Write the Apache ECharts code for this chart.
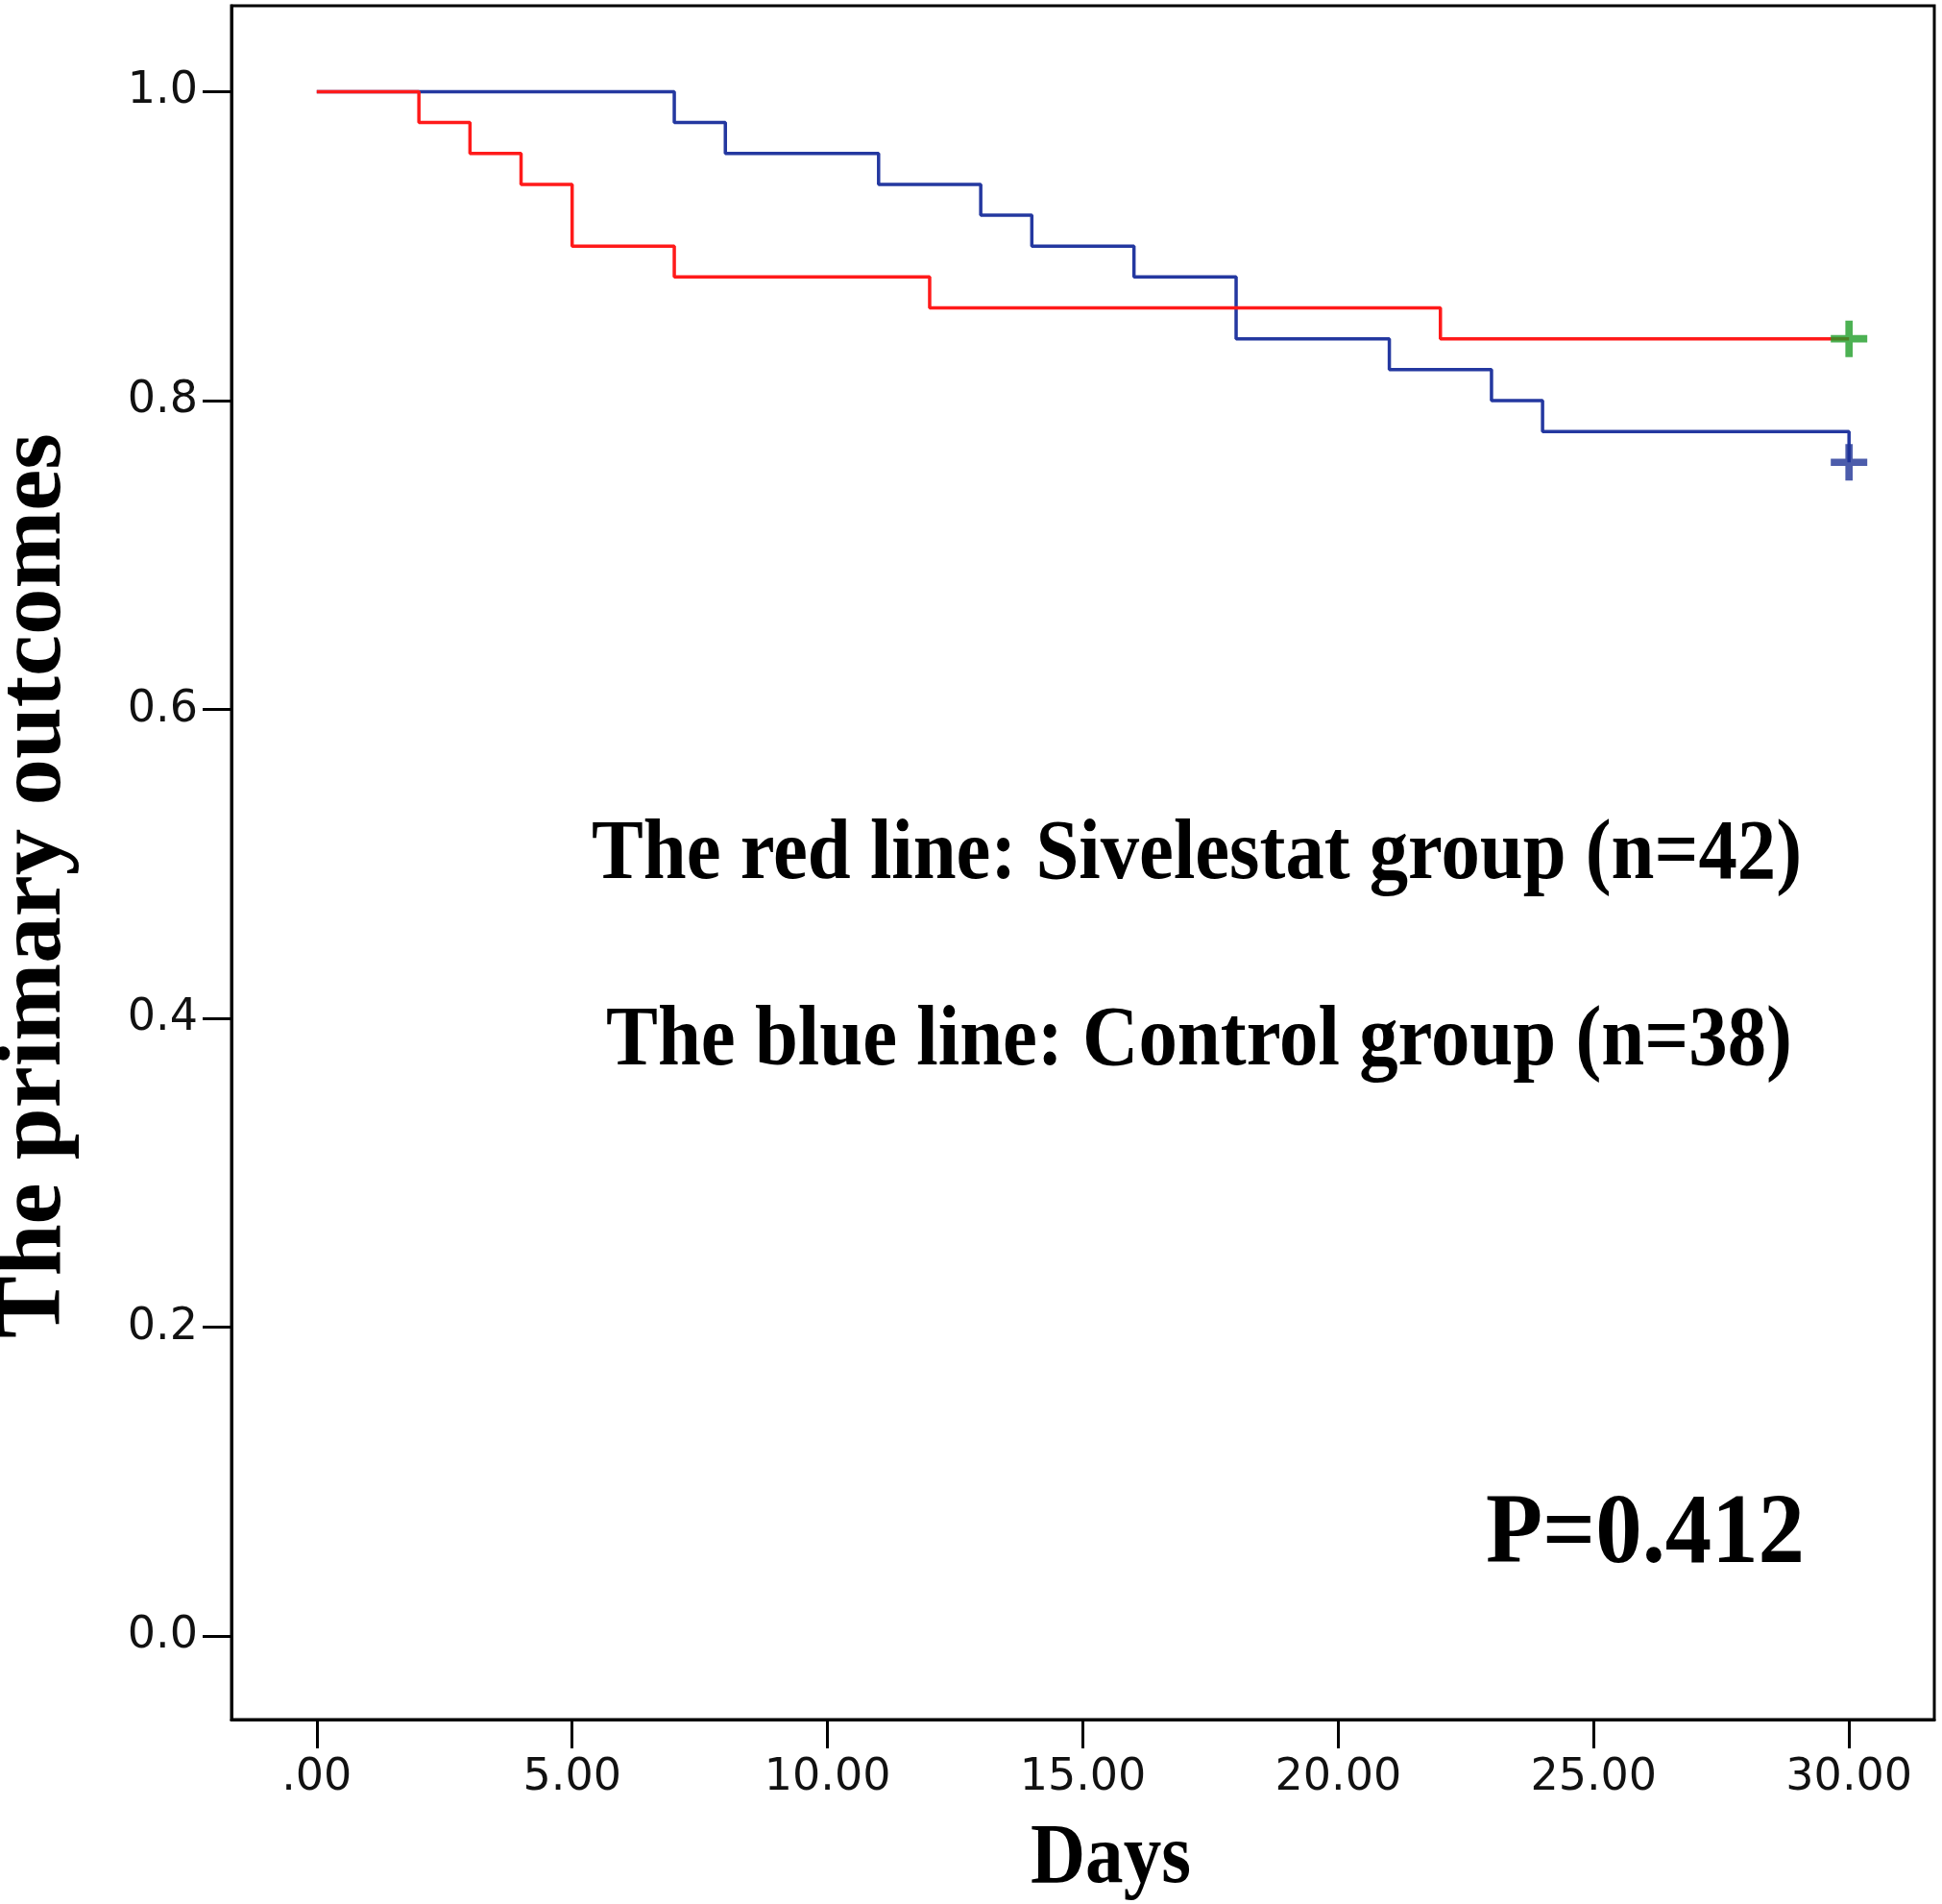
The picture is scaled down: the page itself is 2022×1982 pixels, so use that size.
<!DOCTYPE html>
<html>
<head>
<meta charset="utf-8">
<script src="https://cdn.jsdelivr.net/npm/echarts@6/dist/echarts.min.js"></script>
<style>html,body{margin:0;padding:0;background:#fff}#c{width:2022px;height:1982px}</style>
</head>
<body>
<div id="c"></div>
<script>
// ---- data ----
var redTimes   = [0, 2, 3, 4, 5, 7, 12, 22, 30];
var redSurv    = [1.00, 0.98, 0.96, 0.94, 0.90, 0.88, 0.86, 0.84, 0.84];
var blueTimes  = [0, 7, 8, 11, 13, 14, 16, 18, 21, 23, 24, 30];
var blueSurv   = [1.00, 0.98, 0.96, 0.94, 0.92, 0.90, 0.88, 0.84, 0.82, 0.80, 0.78, 0.76];
var redCensor  = [[30, 0.84]];
var blueCensor = [[30, 0.76]];
var xTickValues = [0, 5, 10, 15, 20, 25, 30];
var xTickLabels = ['.00', '5.00', '10.00', '15.00', '20.00', '25.00', '30.00'];
var yTickValues = [0, 0.2, 0.4, 0.6, 0.8, 1.0];
var yTickLabels = ['0.0', '0.2', '0.4', '0.6', '0.8', '1.0'];
var yTitle = 'The primary outcomes';
var xTitle = 'Days';
var note1 = 'The red line: Sivelestat group (n=42)';
var note2 = 'The blue line: Control group (n=38)';
var pText = 'P=0.412';

function zip(a, b) { return a.map(function (v, i) { return [v, b[i]]; }); }

var mc = document.createElement('canvas').getContext('2d');
function fitScale(text, font, target) {
  mc.font = font;
  var w = mc.measureText(text).width;
  return target / w;
}
var serif = '"Liberation Serif", "Times New Roman", serif';
function fitText(text, size, left, right, baseline) {
  var font = 'bold ' + size + 'px ' + serif;
  var s = fitScale(text, font, right - left);
  return {
    type: 'text', x: left, y: baseline - 0.33 * size, scaleX: s,
    style: { text: text, font: font, fill: '#000', align: 'left', verticalAlign: 'middle' }
  };
}
var plusPath = 'path://M4,0H6V4H10V6H6V10H4V6H0V4H4Z';

var chart = echarts.init(document.getElementById('c'));
var ytFont = 'bold 96px ' + serif;
var ytScale = fitScale(yTitle, ytFont, 942);
chart.setOption({
  animation: false,
  backgroundColor: '#fff',
  grid: { left: 241, right: 8, top: 6, bottom: 192, show: true, borderColor: '#000', borderWidth: 3, backgroundColor: 'transparent' },
  xAxis: {
    type: 'value', min: -1.67, max: 31.67,
    splitLine: { show: false },
    axisLine: { show: true, onZero: false, lineStyle: { color: '#000', width: 3 } },
    axisTick: { show: true, inside: false, length: 30, lineStyle: { color: '#000', width: 3 }, customValues: xTickValues },
    axisLabel: {
      show: true, margin: 38, fontFamily: 'DejaVu Sans', fontSize: 46, color: '#111',
      customValues: xTickValues,
      formatter: function (v) { var i = xTickValues.indexOf(v); return i >= 0 ? xTickLabels[i] : ''; }
    }
  },
  yAxis: {
    type: 'value', min: -0.0539, max: 1.0556,
    splitLine: { show: false },
    axisLine: { show: true, onZero: false, lineStyle: { color: '#000', width: 3 } },
    axisTick: { show: true, inside: false, length: 30, lineStyle: { color: '#000', width: 3 }, customValues: yTickValues },
    axisLabel: {
      show: true, margin: 35, fontFamily: 'DejaVu Sans', fontSize: 46, color: '#111',
      customValues: yTickValues,
      formatter: function (v) {
        for (var i = 0; i < yTickValues.length; i++) if (Math.abs(yTickValues[i] - v) < 1e-6) return yTickLabels[i];
        return '';
      }
    }
  },
  series: [
    { type: 'line', step: 'end', data: zip(redTimes, redSurv), symbol: 'none', lineStyle: { color: '#ff1a1a', width: 3.5 }, z: 3 },
    { type: 'line', step: 'end', data: zip(blueTimes, blueSurv), symbol: 'none', lineStyle: { color: '#2438a0', width: 3.5 }, z: 2 },
    { type: 'scatter', data: redCensor, symbol: plusPath, symbolSize: 38, itemStyle: { color: '#1f9e28' }, z: 4 },
    { type: 'scatter', data: blueCensor, symbol: plusPath, symbolSize: 38, itemStyle: { color: '#1f3396' }, z: 4 }
  ],
  graphic: [
    fitText(note1, 88, 616, 1876, 920),
    fitText(note2, 88, 631, 1866, 1114),
    fitText(pText, 103, 1547, 1879, 1633),
    fitText(xTitle, 88, 1073, 1240, 1965),
    {
      type: 'text', x: 37, y: 922, rotation: Math.PI / 2, scaleX: ytScale,
      style: { text: yTitle, font: ytFont, fill: '#000', align: 'center', verticalAlign: 'middle' }
    }
  ]
});
</script>
</body>
</html>
